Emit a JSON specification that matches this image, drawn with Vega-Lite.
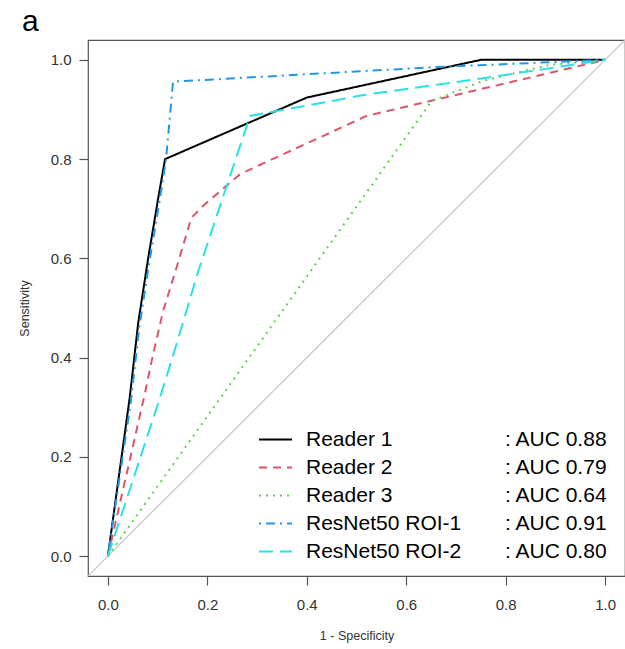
{
  "$schema": "https://vega.github.io/schema/vega-lite/v6.json",
  "width": 537,
  "height": 536,
  "autosize": {"type": "none"},
  "padding": {"left": 88, "top": 40, "right": 0, "bottom": 73},
  "background": "white",
  "config": {
    "font": "Liberation Sans",
    "view": {"stroke": "#555555", "strokeWidth": 1.2},
    "axis": {
      "grid": false, "domain": false, "tickColor": "#555555", "tickSize": 9, "tickWidth": 1.2,
      "labelFontSize": 15, "labelColor": "#333333",
      "titleFontSize": 12.5, "titleFontWeight": "normal", "titleColor": "#333333"
    }
  },
  "title": {"text": "a", "anchor": "start", "frame": "group", "fontSize": 30, "fontWeight": "normal", "dx": -66, "offset": 3, "color": "black"},
  "layer": [
    {
      "data": {"values": [{"x": -0.04, "y": -0.04}, {"x": 1.04, "y": 1.04}]},
      "mark": {"type": "line", "color": "#c4c4c4", "strokeWidth": 1.2, "clip": true},
      "encoding": {
        "x": {"field": "x", "type": "quantitative", "scale": {"domain": [-0.04, 1.04], "nice": false, "zero": false},
              "axis": {"values": [0, 0.2, 0.4, 0.6, 0.8, 1.0], "format": ".1f", "title": "1 - Specificity", "labelPadding": 12, "titlePadding": 17}},
        "y": {"field": "y", "type": "quantitative", "scale": {"domain": [-0.04, 1.04], "nice": false, "zero": false},
              "axis": {"values": [0, 0.2, 0.4, 0.6, 0.8, 1.0], "format": ".1f", "title": "Sensitivity", "labelPadding": 8, "titlePadding": 19}}
      }
    },
    {
      "data": {"values": [
        {"series": "Reader 1", "auc": ": AUC 0.88", "x": 0, "y": 0},
        {"series": "Reader 1", "auc": ": AUC 0.88", "x": 0.044, "y": 0.32},
        {"series": "Reader 1", "auc": ": AUC 0.88", "x": 0.061, "y": 0.47},
        {"series": "Reader 1", "auc": ": AUC 0.88", "x": 0.081, "y": 0.60},
        {"series": "Reader 1", "auc": ": AUC 0.88", "x": 0.101, "y": 0.72},
        {"series": "Reader 1", "auc": ": AUC 0.88", "x": 0.115, "y": 0.80},
        {"series": "Reader 1", "auc": ": AUC 0.88", "x": 0.40, "y": 0.924},
        {"series": "Reader 1", "auc": ": AUC 0.88", "x": 0.75, "y": 1.0},
        {"series": "Reader 1", "auc": ": AUC 0.88", "x": 1.0, "y": 1.0},
        {"series": "Reader 2", "auc": ": AUC 0.79", "x": 0, "y": 0},
        {"series": "Reader 2", "auc": ": AUC 0.79", "x": 0.074, "y": 0.326},
        {"series": "Reader 2", "auc": ": AUC 0.79", "x": 0.088, "y": 0.393},
        {"series": "Reader 2", "auc": ": AUC 0.79", "x": 0.111, "y": 0.494},
        {"series": "Reader 2", "auc": ": AUC 0.79", "x": 0.138, "y": 0.581},
        {"series": "Reader 2", "auc": ": AUC 0.79", "x": 0.168, "y": 0.682},
        {"series": "Reader 2", "auc": ": AUC 0.79", "x": 0.195, "y": 0.709},
        {"series": "Reader 2", "auc": ": AUC 0.79", "x": 0.266, "y": 0.77},
        {"series": "Reader 2", "auc": ": AUC 0.79", "x": 0.44, "y": 0.85},
        {"series": "Reader 2", "auc": ": AUC 0.79", "x": 0.52, "y": 0.887},
        {"series": "Reader 2", "auc": ": AUC 0.79", "x": 0.648, "y": 0.917},
        {"series": "Reader 2", "auc": ": AUC 0.79", "x": 1.0, "y": 1.0},
        {"series": "Reader 3", "auc": ": AUC 0.64", "x": 0, "y": 0},
        {"series": "Reader 3", "auc": ": AUC 0.64", "x": 0.651, "y": 0.917},
        {"series": "Reader 3", "auc": ": AUC 0.64", "x": 0.755, "y": 0.958},
        {"series": "Reader 3", "auc": ": AUC 0.64", "x": 0.889, "y": 0.99},
        {"series": "Reader 3", "auc": ": AUC 0.64", "x": 1.0, "y": 1.0},
        {"series": "ResNet50 ROI-1", "auc": ": AUC 0.91", "x": 0, "y": 0},
        {"series": "ResNet50 ROI-1", "auc": ": AUC 0.91", "x": 0.046, "y": 0.31},
        {"series": "ResNet50 ROI-1", "auc": ": AUC 0.91", "x": 0.063, "y": 0.46},
        {"series": "ResNet50 ROI-1", "auc": ": AUC 0.91", "x": 0.083, "y": 0.59},
        {"series": "ResNet50 ROI-1", "auc": ": AUC 0.91", "x": 0.103, "y": 0.71},
        {"series": "ResNet50 ROI-1", "auc": ": AUC 0.91", "x": 0.117, "y": 0.80},
        {"series": "ResNet50 ROI-1", "auc": ": AUC 0.91", "x": 0.131, "y": 0.956},
        {"series": "ResNet50 ROI-1", "auc": ": AUC 0.91", "x": 0.65, "y": 0.985},
        {"series": "ResNet50 ROI-1", "auc": ": AUC 0.91", "x": 1.0, "y": 1.0},
        {"series": "ResNet50 ROI-2", "auc": ": AUC 0.80", "x": 0, "y": 0},
        {"series": "ResNet50 ROI-2", "auc": ": AUC 0.80", "x": 0.105, "y": 0.32},
        {"series": "ResNet50 ROI-2", "auc": ": AUC 0.80", "x": 0.138, "y": 0.427},
        {"series": "ResNet50 ROI-2", "auc": ": AUC 0.80", "x": 0.182, "y": 0.575},
        {"series": "ResNet50 ROI-2", "auc": ": AUC 0.80", "x": 0.229, "y": 0.716},
        {"series": "ResNet50 ROI-2", "auc": ": AUC 0.80", "x": 0.286, "y": 0.887},
        {"series": "ResNet50 ROI-2", "auc": ": AUC 0.80", "x": 0.52, "y": 0.93},
        {"series": "ResNet50 ROI-2", "auc": ": AUC 0.80", "x": 0.755, "y": 0.963},
        {"series": "ResNet50 ROI-2", "auc": ": AUC 0.80", "x": 1.0, "y": 1.0}
      ]},
      "mark": {"type": "line", "strokeWidth": 2, "clip": true},
      "encoding": {
        "x": {"field": "x", "type": "quantitative", "scale": {"domain": [-0.04, 1.04], "nice": false, "zero": false}},
        "y": {"field": "y", "type": "quantitative", "scale": {"domain": [-0.04, 1.04], "nice": false, "zero": false}},
        "color": {
          "field": "series", "type": "nominal",
          "scale": {"domain": ["Reader 1", "Reader 2", "Reader 3", "ResNet50 ROI-1", "ResNet50 ROI-2"],
                    "range": ["#000000", "#DF536B", "#61D04F", "#2297E6", "#28E2E5"]},
          "legend": {"orient": "none", "legendX": 170, "legendY": 382, "title": null, "padding": 0,
                     "symbolType": "stroke", "symbolSize": 1089, "symbolStrokeWidth": 2,
                     "labelFontSize": 21, "labelColor": "black", "labelOffset": 13, "labelLimit": 300, "rowPadding": 0}
        },
        "strokeDash": {
          "field": "series", "type": "nominal",
          "scale": {"domain": ["Reader 1", "Reader 2", "Reader 3", "ResNet50 ROI-1", "ResNet50 ROI-2"],
                    "range": [[1, 0], [8, 6], [2, 5], [2, 5, 9, 5], [14, 7]]},
          "legend": {"orient": "none", "legendX": 170, "legendY": 382, "title": null, "padding": 0,
                     "symbolType": "stroke", "symbolSize": 1089, "symbolStrokeWidth": 2,
                     "labelFontSize": 21, "labelColor": "black", "labelOffset": 13, "labelLimit": 300, "rowPadding": 0}
        },
        "opacity": {
          "field": "auc", "type": "nominal",
          "scale": {"domain": [": AUC 0.88", ": AUC 0.79", ": AUC 0.64", ": AUC 0.91", ": AUC 0.80"], "range": [1, 1, 1, 1, 1]},
          "legend": {"orient": "none", "legendX": 369, "legendY": 382, "title": null, "padding": 0,
                     "symbolType": "stroke", "symbolSize": 1089, "symbolStrokeWidth": 2,
                     "labelFontSize": 21, "labelColor": "black", "labelOffset": 13, "labelLimit": 300, "rowPadding": 0,
                     "encode": {"symbols": {"update": {"opacity": {"value": 0}, "strokeOpacity": {"value": 0}}}}}
        }
      }
    }
  ]
}
